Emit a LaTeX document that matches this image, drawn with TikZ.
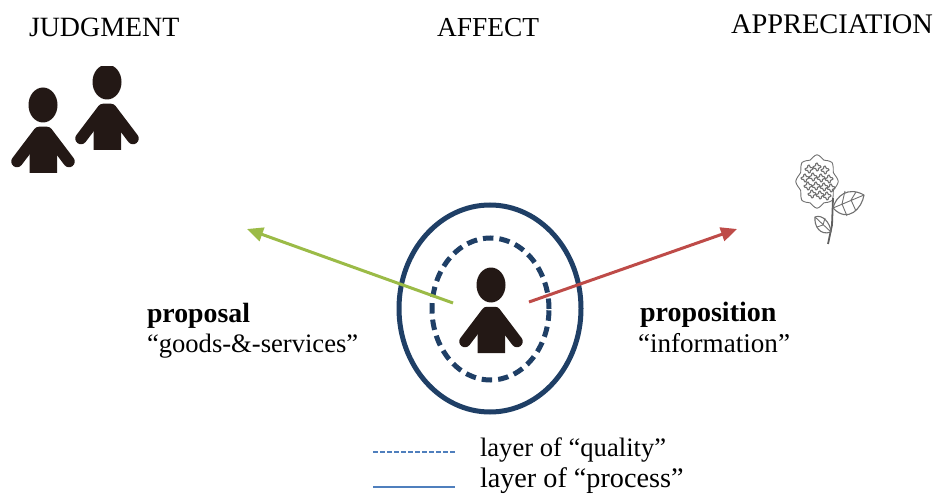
\documentclass[tikz,border=0pt]{standalone}
\usepackage{fontspec}
\setmainfont{Liberation Serif}
\definecolor{ink}{HTML}{231815}
\definecolor{navy}{HTML}{1F3F66}
\definecolor{leafgreen}{HTML}{9BBB47}
\definecolor{brick}{HTML}{BE4B48}
\definecolor{legendblue}{HTML}{4F7FBD}
\definecolor{petal}{HTML}{707070}
\tikzset{
  lbl/.style={anchor=base west,inner sep=0pt,outer sep=0pt,font=\fontsize{26.6}{30}\selectfont,text=black},
  ring/.style={draw=navy,line width=5pt,ellipse,inner sep=0pt,minimum width=182pt,minimum height=207pt},
  dashring/.style={ring,dash pattern=on 10.5pt off 6pt,minimum width=117pt,minimum height=142pt},
  arrowline/.style={line width=3pt,-{Triangle[length=16pt,width=14pt]}},
  petalline/.style={draw=petal,line width=.9pt,line join=round},
  person/.pic={
    \fill[ink] (0,0) ellipse [x radius=14.5pt,y radius=17.5pt];
    \fill[ink] (-4,27.5) -- (4,27.5) -- (14,43) -- (14,68) -- (-13.5,68) -- (-13.5,43) -- cycle;
    \draw[ink,line width=11.5pt,line cap=round,line join=round] (-26,56.5) -- (-4,27.5) -- (4,27.5) -- (26,56.5);
  }
}
\usetikzlibrary{arrows.meta,shapes.geometric}
\begin{document}
\begin{tikzpicture}[x=1pt,y=-1pt]
\useasboundingbox (0,0) rectangle (936,494);
% labels
\node[lbl,font=\fontsize{27.9}{30}\selectfont] (judg) at (29,37) {JUDGMENT};
\node[lbl,font=\fontsize{27.4}{30}\selectfont] (aff) at (437,37) {AFFECT};
\node[lbl,font=\fontsize{28.4}{30}\selectfont] (app) at (731,34) {APPRECIATION};
\node[lbl,font=\fontsize{27.8}{30}\selectfont\bfseries] (prop) at (147,322) {proposal};
\node[lbl] (goods) at (147,352) {“goods-\&-services”};
\node[lbl,font=\fontsize{28}{30}\selectfont\bfseries] (propn) at (640,321) {proposition};
\node[lbl,font=\fontsize{27.1}{30}\selectfont] (info) at (638,352) {“information”};
\node[lbl] (lq) at (480,456) {layer of “quality”};
\node[lbl,font=\fontsize{28.2}{30}\selectfont] (lp) at (480,487.6) {layer of “process”};
% people on the left
\begin{scope}
\clip (0,67) rectangle (160,180);
\pic at (43,105) {person};
\pic at (107,82) {person};
\end{scope}
% central person and rings
\pic at (491,285) {person};
\node[ring] (outer) at (490,308.5) {};
\node[dashring] (inner) at (490.5,309) {};
% arrows
\coordinate (gs) at (453,303);
\coordinate (ge) at (247,229);
\coordinate (rs) at (529,302);
\coordinate (re) at (737,229);
\draw[arrowline,leafgreen] (gs) -- (ge);
\draw[arrowline,brick] (rs) -- (re);
% legend
\coordinate (a1) at (373,452); \coordinate (a2) at (456,452);
\coordinate (b1) at (373,487); \coordinate (b2) at (455,487);
\draw[legendblue,line width=1.6pt,dash pattern=on 4.5pt off 2.5pt] (a1) -- (a2);
\draw[legendblue,line width=1.8pt] (b1) -- (b2);
% flower
\draw[petalline] plot[smooth cycle,samples=32,domain=0:348.75] ({817+(19.5+1.8*cos(8*\x))*cos(\x)},{181.5+(25+1.8*cos(8*\x))*sin(\x)});
\foreach \cx/\cy in {809/169,817/167,825/170,805/178,813/177,821/178,829/179,808/186,816/186,824/187,831/188,812/194,820/195,827/196}{
  \draw[petalline,line width=1.1pt] plot[smooth cycle,samples=16,domain=0:337.5] ({\cx+(3+1.1*cos(4*\x+20))*cos(\x)},{\cy+(3+1.1*cos(4*\x+20))*sin(\x)});
}
\draw[draw=petal!85!black,line width=1.8pt] (833,198) -- (832,225) -- (828,244);
\draw[petalline,line width=1.1pt] (833,208) .. controls (836,196) and (848,186) .. (864,195) .. controls (862,208) and (848,224) .. (833,208) -- cycle;
\draw[petalline] (833,208) -- (864,195) (842,204) -- (845,191) (851,200) -- (856,192) (842,204) -- (847,216) (851,200) -- (856,211);
\draw[petalline,line width=1.1pt] (831,232) .. controls (830,222) and (822,214) .. (815,217) .. controls (814,226) and (820,236) .. (831,232) -- cycle;
\draw[petalline] (831,232) -- (815,217) (823,225) -- (825,218) (823,225) -- (817,227);
\end{tikzpicture}
\end{document}
